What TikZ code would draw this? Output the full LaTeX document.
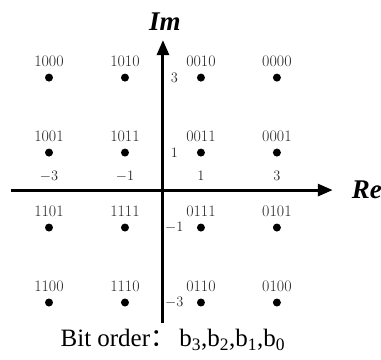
\documentclass[tikz,border=0pt]{standalone}
\usepackage{fontspec}
\newfontfamily\tnr{Liberation Serif}
\newfontfamily\cjk{Noto Sans CJK SC}
\usetikzlibrary{arrows.meta}

\begin{document}
\begin{tikzpicture}[
  x=38pt, y=37.5pt,
  axis/.style={line width=3pt,-{Triangle[length=15pt,width=12pt]}},
  dot/.style={circle,fill,inner sep=0pt,minimum size=8pt},
  bits/.style={font=\fontsize{16}{18}\selectfont,text=black!85},
  tck/.style={font=\fontsize{15}{17}\selectfont,text=black!85}
]
\useasboundingbox (-4.29,-4.53) rectangle (5.74,5.07);
% axes
\coordinate (xs) at (-4.0,0);
\coordinate (xe) at (4.47,0);
\coordinate (ys) at (0,-3.55);
\coordinate (ye) at (0,4.0);
\draw[axis] (xs) -- (xe);
\draw[axis] (ys) -- (ye);
\node (im) at (0.05,4.48) {\tnr\fontsize{27}{29}\selectfont\bfseries\itshape Im};
\node[anchor=west] (re) at (4.88,0) {\tnr\fontsize{27}{29}\selectfont\bfseries\itshape Re};
% ticks
\foreach \v in {-3,-1,1,3}{
  \node[tck] (tx\v) at (\v,0.37) {$\v$};
  \node[tck] (ty\v) at (0.3,\v) {$\v$};
}
% constellation points
\foreach \x/\y/\b in {-3/3/1000,-1/3/1010,1/3/0010,3/3/0000,
                      -3/1/1001,-1/1/1011,1/1/0011,3/1/0001,
                      -3/-1/1101,-1/-1/1111,1/-1/0111,3/-1/0101,
                      -3/-3/1100,-1/-3/1110,1/-3/0110,3/-3/0100}{
  \node[dot] (p\b) at (\x,\y) {};
  \node[bits] (l\b) at (\x,\y+0.43) {\b};
}
\node (order) at (0.26,-4.0) {\tnr\fontsize{25}{27}\selectfont Bit order{\cjk ：}\,b\textsubscript{3},b\textsubscript{2},b\textsubscript{1},b\textsubscript{0}};
\end{tikzpicture}
\end{document}
